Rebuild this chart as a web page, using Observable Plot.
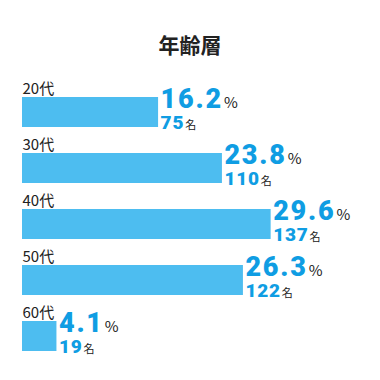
<!DOCTYPE html>
<html>
<head>
<meta charset="utf-8">
<script src="https://cdn.jsdelivr.net/npm/d3@7"></script>
<script src="https://cdn.jsdelivr.net/npm/@observablehq/plot@0.6"></script>
<style>
  html, body { margin: 0; padding: 0; background: #fff; }
  #wrap { width: 380px; }
  #title { height: 70px; box-sizing: border-box; padding-top: 32px; text-align: center;
           font-family: "Noto Sans CJK JP", sans-serif; font-weight: 700; font-size: 21px; line-height: 24px; color: #222; }
</style>
</head>
<body>
<div id="wrap">
  <div id="title">年齢層</div>
  <div id="chart"></div>
</div>
<script>
const ages = ["20代", "30代", "40代", "50代", "60代"];
const percents = [16.2, 23.8, 29.6, 26.3, 4.1];
const counts = [75, 110, 137, 122, 19];
const pctUnit = "%";
const countUnit = "名";

const data = ages.map((a, i) => ({age: a, pct: percents[i], count: counts[i]}));

const barColor = "#4dbdf0";
const textBlue = "#0f9de3";

const chart = Plot.plot({
  width: 380,
  height: 310,
  marginLeft: 22,
  marginRight: 22,
  marginTop: 26,
  marginBottom: 29,
  x: {domain: [0, 40], axis: null},
  y: {domain: ages, axis: null, paddingInner: 0.47, paddingOuter: 0},
  marks: [
    Plot.barX(data, {x: "pct", y: "age", fill: barColor}),
    Plot.text(data, {x: 0, y: "age", text: "age", textAnchor: "start", dy: -23,
      fontSize: 15, fill: "#222", fontFamily: "'Noto Sans CJK JP', sans-serif"}),
    Plot.text(data, {x: "pct", y: "age", text: d => d.pct.toFixed(1), textAnchor: "start", dx: 2, dy: -13,
      fontSize: 27, fontWeight: 900, fill: textBlue, fontFamily: "Roboto, sans-serif"}),
    Plot.text(data, {x: "pct", y: "age", text: d => String(d.count), textAnchor: "start", dx: 2, dy: 10,
      fontSize: 19, fontWeight: 900, fill: textBlue, fontFamily: "Roboto, sans-serif"})
  ]
});

function appendUnit(fontSize, unit, size, spacing, gap) {
  d3.select(chart).selectAll(`g[font-size="${fontSize}"] text`).each(function() {
    const t = d3.select(this);
    const s = t.text();
    t.text(null);
    t.append("tspan").attr("letter-spacing", spacing).text(s);
    t.append("tspan")
      .attr("dx", gap)
      .attr("font-size", size)
      .attr("font-weight", "normal")
      .attr("fill", "#222")
      .attr("font-family", "'Noto Sans CJK JP', sans-serif")
      .text(unit);
  });
}
appendUnit(27, pctUnit, 15, "1.8px", 1);
appendUnit(19, countUnit, 11, "0.8px", 1);

document.getElementById("chart").appendChild(chart);
</script>
</body>
</html>
